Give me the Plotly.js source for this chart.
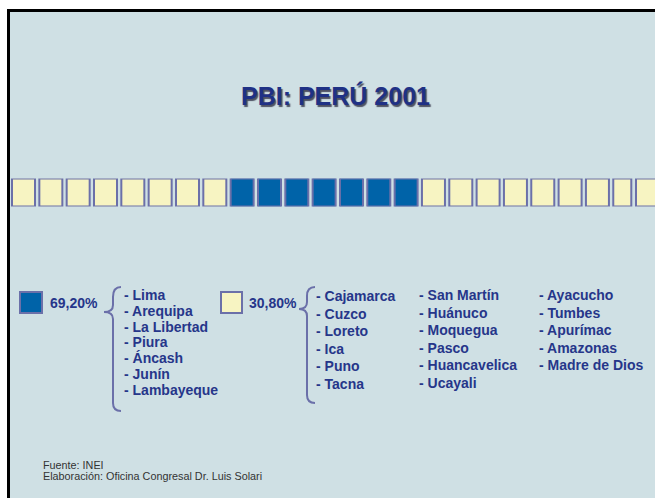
<!DOCTYPE html>
<html>
<head>
<meta charset="utf-8">
<script src="https://cdn.plot.ly/plotly-3.0.1.min.js"></script>
<style>html,body{margin:0;padding:0;background:#fff;}#chart{width:655px;height:498px;}</style>
</head>
<body>
<div id="chart"></div>
<script>
// ---- data ----
const chartTitle = 'PBI: PERÚ 2001';
const shareValues = [69.20, 30.80];            // % of GDP: top group, rest
const groupColors = ['#0063a8', '#f7f4c2'];    // blue = top group, cream = rest
const topRegions = ['Lima', 'Arequipa', 'La Libertad', 'Piura', 'Áncash', 'Junín', 'Lambayeque'];
const restRegionsCol1 = ['Cajamarca', 'Cuzco', 'Loreto', 'Ica', 'Puno', 'Tacna'];
const restRegionsCol2 = ['San Martín', 'Huánuco', 'Moquegua', 'Pasco', 'Huancavelica', 'Ucayali'];
const restRegionsCol3 = ['Ayacucho', 'Tumbes', 'Apurímac', 'Amazonas', 'Madre de Dios'];
// decorative tile strip: 0 = top group colour, 1 = rest colour
const tileIndex = [0,1,2,3,4,5,6,7,8,9,10,11,12,13,14,15,16,17,18,19,20,21,22,23];
const tileGroup = [1,1,1,1,1,1,1,1,0,0,0,0,0,0,0,1,1,1,1,1,1,1,1,1];
const sourceLines = ['Fuente: INEI', 'Elaboración: Oficina Congresal Dr. Luis Solari'];

// ---- helpers ----
const W = 655, H = 498;
const px = x => x / W;
const py = y => 1 - y / H;
const fmtPct = v => v.toFixed(2).replace('.', ',') + '%';
const textColor = '#26368a';
const lineColor = '#6b70a9';
const FONT = 'Liberation Sans, Arial, sans-serif';

// ---- tiles (last, edge-cut tile in its own trace so it is drawn) ----
function tileTrace(idx) {
  return {
    type: 'bar',
    x: idx,
    y: idx.map(() => 1),
    width: idx.map(i => i === 22 ? 0.659 : 0.8415),
    offset: idx.map(i => i === 23 ? -0.59 : -0.4207),
    marker: {color: idx.map(i => groupColors[tileGroup[i]]), line: {color: lineColor, width: 2}},
    xaxis: 'x2', yaxis: 'y2',
    hoverinfo: 'skip', showlegend: false
  };
}
const traces = [tileTrace(tileIndex.slice(0, -1)), tileTrace(tileIndex.slice(-1))];

// ---- annotations ----
const ann = [];
function txt(text, x, y, opts) {
  ann.push(Object.assign({
    text: text, xref: 'paper', yref: 'paper', x: px(x), y: py(y),
    xanchor: 'left', yanchor: 'middle', showarrow: false,
    font: {family: FONT, size: 14, color: textColor, weight: 'bold'}
  }, opts || {}));
}
// title with shadow
txt(chartTitle, 335, 96, {xanchor: 'center', font: {family: FONT, size: 25, color: '#1f3185', weight: 'bold', shadow: '1.5px 1.5px 1px #4e5263'}});
// shares
txt(fmtPct(shareValues[0]), 48, 303);
txt(fmtPct(shareValues[1]), 247, 303);
// lists
topRegions.forEach((r, i) => txt('- ' + r, 122, 295 + i * 15.8));
restRegionsCol1.forEach((r, i) => txt('- ' + r, 314, 296 + i * 17.5));
restRegionsCol2.forEach((r, i) => txt('- ' + r, 417, 295 + i * 17.5));
restRegionsCol3.forEach((r, i) => txt('- ' + r, 537, 295 + i * 17.5));
// source
sourceLines.forEach((s, i) => txt(s, 41, 465 + i * 11, {font: {family: FONT, size: 10.8, color: '#333333'}}));

// ---- shapes ----
function path(pts) {
  return pts.map(p => typeof p === 'string' ? p : px(p[0]).toFixed(5) + ',' + py(p[1]).toFixed(5)).join(' ');
}
const shapes = [
  {type: 'rect', xref: 'paper', yref: 'paper', x0: px(7), x1: px(660), y0: py(9), y1: py(505), fillcolor: '#cfe0e4', line: {width: 0}, layer: 'below'},
  {type: 'line', xref: 'paper', yref: 'paper', x0: px(8.5), x1: px(8.5), y0: py(9), y1: py(505), line: {color: '#000', width: 3}},
  {type: 'line', xref: 'paper', yref: 'paper', x0: px(7), x1: px(660), y0: py(10.5), y1: py(10.5), line: {color: '#000', width: 3}},
  // legend keys
  {type: 'rect', xref: 'paper', yref: 'paper', x0: px(20), x1: px(42), y0: py(292), y1: py(313), fillcolor: groupColors[0], line: {color: lineColor, width: 2}},
  {type: 'rect', xref: 'paper', yref: 'paper', x0: px(221), x1: px(242), y0: py(292), y1: py(313), fillcolor: groupColors[1], line: {color: lineColor, width: 2}},
  // braces
  {type: 'path', xref: 'paper', yref: 'paper', line: {color: lineColor, width: 2},
   path: path(['M', [121, 287], 'Q', [113, 287], [113, 297], 'L', [113, 305], 'Q', [113, 312], [104, 312], 'Q', [113, 312], [113, 319], 'L', [113, 403], 'Q', [113, 411], [121, 411]])},
  {type: 'path', xref: 'paper', yref: 'paper', line: {color: lineColor, width: 2},
   path: path(['M', [315, 287], 'Q', [307, 287], [307, 296], 'L', [307, 302], 'Q', [307, 309], [299, 309], 'Q', [307, 309], [307, 316], 'L', [307, 395], 'Q', [307, 403], [315, 403]])}
];

const hidden = {showgrid: false, zeroline: false, showticklabels: false, showline: false, ticks: '', fixedrange: true};
const layout = {
  width: W, height: H,
  margin: {l: 0, r: 0, t: 0, b: 0},
  paper_bgcolor: '#ffffff', plot_bgcolor: 'rgba(0,0,0,0)',
  showlegend: false,
  barmode: 'overlay',
  xaxis2: Object.assign({domain: [0, 1], range: [-0.86, 23.106], anchor: 'y2'}, hidden),
  yaxis2: Object.assign({domain: [py(206.5), py(178.5)], range: [0, 1], anchor: 'x2'}, hidden),
  annotations: ann,
  shapes: shapes
};
Plotly.newPlot('chart', traces, layout, {staticPlot: true, displayModeBar: false});
</script>
</body>
</html>
